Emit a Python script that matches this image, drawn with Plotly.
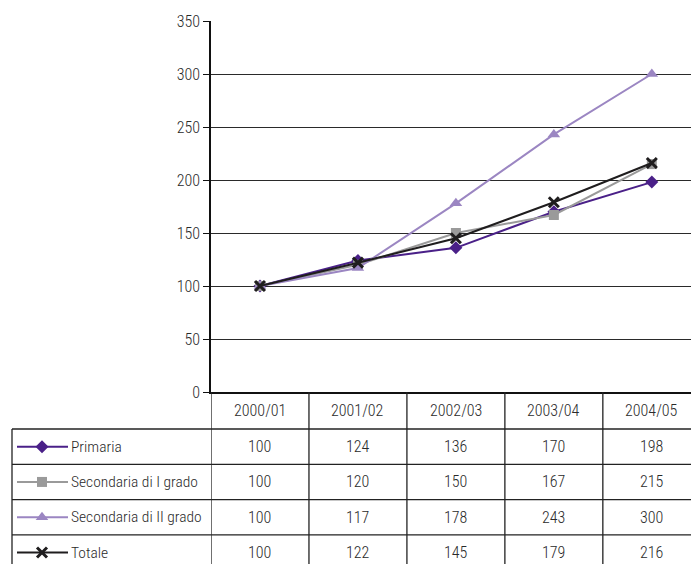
import plotly.graph_objects as go

# Index numbers (2000/01 = 100) by school level
categories = ["2000/01", "2001/02", "2002/03", "2003/04", "2004/05"]
primaria = [100, 124, 136, 170, 198]
sec_primo = [100, 120, 150, 167, 215]
sec_secondo = [100, 117, 178, 243, 300]
totale = [100, 122, 145, 179, 216]

series_names = ["Primaria", "Secondaria di I grado", "Secondaria di II grado", "Totale"]
series_values = [primaria, sec_primo, sec_secondo, totale]
series_colors = ["#4a2088", "#9a9a9a", "#9b86c2", "#1f1d1e"]
series_symbols = ["diamond", "square", "triangle-up", "x-thin"]
marker_sizes = [10, 10, 11, 10]

W, H = 691, 564
FONT = "Roboto Condensed, Liberation Sans Narrow, DejaVu Sans Condensed, sans-serif"
FS = 16          # numbers and tick labels
FS_LABEL = 15.5  # series names in the table
TXT = "#2a2a2a"

# pixel frame of the plotting area
px_left, px_right = 211, W
px_top, px_bottom = 21, 392


def tfont(size):
    return dict(size=size, color=TXT, family=FONT, weight=300)


fig = go.Figure()

idx = list(range(len(categories)))
for name, vals, col, sym, ms in zip(series_names, series_values, series_colors,
                                     series_symbols, marker_sizes):
    marker = dict(symbol=sym, size=ms, color=col)
    if sym == "x-thin":
        marker["line"] = dict(width=3, color=col)
    fig.add_trace(go.Scatter(
        x=idx, y=vals, mode="lines+markers", name=name,
        line=dict(color=col, width=2), marker=marker,
        showlegend=False, cliponaxis=False,
    ))

# data table rows: legend keys, labels and values
header_top, header_bottom = px_bottom, 429
row_h = 35.3
table_left = 12
row_tops = [header_bottom + i * row_h for i in range(len(series_names))]

shapes = []
annotations = []

# horizontal rules of the table
for yt in row_tops:
    shapes.append(dict(type="line", xref="x2", yref="y2", x0=table_left, x1=W,
                       y0=yt, y1=yt, line=dict(color="#222", width=1.3)))
# left border of the series rows
shapes.append(dict(type="line", xref="x2", yref="y2", x0=table_left, x1=table_left,
                   y0=header_bottom, y1=H + 10, line=dict(color="#222", width=1.3)))
# column separators aligned with the category scale
for i in range(len(categories)):
    shapes.append(dict(type="line", xref="x", yref="y2", x0=i - 0.5, x1=i - 0.5,
                       y0=header_top, y1=H + 10, line=dict(color="#222", width=1.3)))

# header labels
for i, c in enumerate(categories):
    annotations.append(dict(x=i, y=(header_top + header_bottom) / 2, xref="x", yref="y2",
                            text=c, showarrow=False, font=tfont(FS)))

for r, (name, vals, col, sym, ms) in enumerate(zip(series_names, series_values,
                                                   series_colors, series_symbols,
                                                   marker_sizes)):
    yc = row_tops[r] + row_h / 2
    # legend key: short line with marker
    marker = dict(symbol=sym, size=ms, color=col)
    if sym == "x-thin":
        marker["line"] = dict(width=3, color=col)
    fig.add_trace(go.Scatter(x=[17, 68], y=[yc, yc], xaxis="x2", yaxis="y2",
                             mode="lines", line=dict(color=col, width=2),
                             showlegend=False, hoverinfo="skip"))
    fig.add_trace(go.Scatter(x=[42], y=[yc], xaxis="x2", yaxis="y2",
                             mode="markers", marker=marker,
                             showlegend=False, hoverinfo="skip"))
    annotations.append(dict(x=69, y=yc, xref="x2", yref="y2", text=name,
                            xanchor="left", showarrow=False, font=tfont(FS_LABEL)))
    for i, v in enumerate(vals):
        annotations.append(dict(x=i, y=yc, xref="x", yref="y2", text=str(v),
                                showarrow=False, font=tfont(FS)))

fig.update_layout(
    width=W, height=H,
    margin=dict(l=0, r=0, t=0, b=0),
    paper_bgcolor="white", plot_bgcolor="rgba(0,0,0,0)",
    font=tfont(FS),
    xaxis=dict(domain=[px_left / W, px_right / W], range=[-0.5, 4.4],
               showgrid=False, zeroline=False, showticklabels=False,
               showline=True, linecolor="#111", linewidth=2, ticks="",
               fixedrange=True, automargin=False),
    yaxis=dict(domain=[(H - px_bottom) / H, (H - px_top) / H], range=[0, 350],
               dtick=50, showgrid=True, gridcolor="#2a2a2a", gridwidth=1.2,
               zeroline=False, showline=True, linecolor="#111", linewidth=1.5,
               ticks="outside", ticklen=6, tickcolor="#111",
               tickfont=tfont(FS),
               fixedrange=True, automargin=False),
    xaxis2=dict(domain=[0, 1], range=[0, W], visible=False, fixedrange=True,
                anchor="y2"),
    yaxis2=dict(domain=[0, 1], range=[H, 0], visible=False, fixedrange=True,
                anchor="x2"),
    shapes=shapes,
    annotations=annotations,
)

fig.write_html("out.html")
